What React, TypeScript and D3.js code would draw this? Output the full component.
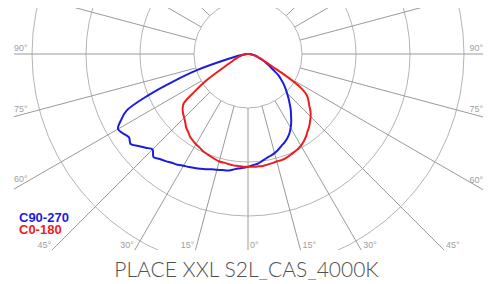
import React from "react";
import * as d3 from "d3";

// Polar angles (degrees from nadir) shared by all half-planes
const ANGLES = [
  0, 2.5, 5, 7.5, 10, 12.5, 15, 17.5, 20, 22.5, 25, 27.5, 30, 32.5, 35, 37.5, 40, 42.5,
  45, 47.5, 50, 52.5, 55, 57.5, 60, 62.5, 65, 67.5, 70, 72.5, 75, 77.5, 80, 82.5, 85, 87.5, 90,
];

// Intensity values (cd/klm) for each C-plane
const C0 = [
  209, 209, 209, 209, 208, 207, 206, 206, 205, 203, 201, 199, 196, 192, 187, 181, 176, 170,
  164, 157, 148, 141, 133, 115, 81, 52, 39, 30, 24, 19, 15, 12, 9, 6, 4, 2, 0,
];
const C180 = [
  209, 209, 208, 208, 207, 206, 206, 204, 202, 200, 198, 195, 193, 190, 187, 182, 178, 172,
  167, 163, 158, 150, 119, 93, 61, 44, 33, 28, 22, 19, 15, 12, 9, 6, 4, 2, 0,
];
const C90 = [
  207, 206, 204, 200, 196, 193, 190, 186, 181, 177, 172, 166, 158, 149, 139, 130, 120, 111,
  102, 94, 86, 77, 69, 57, 48, 41, 35, 29, 24, 20, 17, 14, 11, 8, 6, 3, 0,
];
const C270 = [
  209, 211, 213, 216, 219, 220, 222, 224, 227, 230, 233, 236, 239, 243, 246, 250, 254, 259,
  250, 257, 265, 274, 269, 274, 278, 265, 248, 200, 144, 98, 50, 26, 14, 8, 5, 2, 0,
];

const RINGS = [100, 200, 300, 400];
const SPOKES = [0, 15, 30, 45, 60, 75, 90, 105, 120, 135, 150, 165, 180, 195, 210, 225, 240, 255, 270, 285, 300, 315, 330, 345];
const LABEL_ANGLES = [90, 75, 60, 45, 30, 15, 0];
const LEGEND = [
  { name: "C90-270", color: "#1c1ce0" },
  { name: "C0-180", color: "#ee1c1c" },
];
const TITLE = "PLACE XXL S2L_CAS_4000K";

const W = 497;
const H = 284;
const CX = 248;
const CY = 54;
const CLIP = { x0: 14, x1: 483, y0: 8, y1: 250 };

export default function App() {
  const r = d3.scaleLinear().domain([0, 400]).range([0, 216]);
  const rad = (deg: number) => (deg * Math.PI) / 180;

  const radial = d3
    .lineRadial<{ a: number; v: number }>()
    .angle((d) => d.a)
    .radius((d) => r(d.v))
    .curve(d3.curveCatmullRom);

  const buildPath = (left: number[], right: number[]) => {
    const pts: { a: number; v: number }[] = [];
    for (let i = ANGLES.length - 1; i >= 0; i--) pts.push({ a: Math.PI + rad(ANGLES[i]), v: left[i] });
    for (let i = 1; i < ANGLES.length; i++) pts.push({ a: Math.PI - rad(ANGLES[i]), v: right[i] });
    return radial(pts) || "";
  };

  const labels: { x: number; y: number; anchor: string; text: string }[] = [];
  LABEL_ANGLES.forEach((deg) => {
    const t = rad(deg);
    [1, -1].forEach((s) => {
      const dx = s * Math.sin(t);
      const dy = Math.cos(t);
      const edgeX = s > 0 ? CLIP.x1 : CLIP.x0;
      const tx = Math.abs(dx) > 1e-6 ? (edgeX - CX) / dx : Infinity;
      const ty = dy > 1e-6 ? (CLIP.y1 - CY) / dy : Infinity;
      if (tx <= ty) {
        const yEdge = CY + tx * dy;
        const cot = Math.abs(dx) > 1e-6 ? dy / Math.abs(dx) : 0;
        labels.push({
          x: edgeX,
          y: yEdge - 3 - 7 * cot,
          anchor: s > 0 ? "end" : "start",
          text: `${deg}°`,
        });
      } else {
        const xb = CX + ty * dx;
        if (deg === 0 && s < 0) return;
        labels.push({
          x: s > 0 || deg === 0 ? xb + 2 : xb - 1,
          y: CLIP.y1 - 2,
          anchor: s > 0 || deg === 0 ? "start" : "end",
          text: `${deg}°`,
        });
      }
    });
  });

  return (
    <svg
      width={W}
      height={H}
      style={{ position: "absolute", left: 0, top: 0, background: "#fff" }}
      fontFamily="'Liberation Sans', Arial, sans-serif"
    >
      <defs>
        <clipPath id="plot-clip">
          <rect x={CLIP.x0} y={CLIP.y0} width={CLIP.x1 - CLIP.x0} height={CLIP.y1 - CLIP.y0} />
        </clipPath>
      </defs>
      <g clipPath="url(#plot-clip)">
        <g transform={`translate(${CX},${CY})`}>
          {RINGS.map((v) => (
            <circle key={v} r={r(v)} fill="none" stroke="#b4b4b4" strokeWidth={1} />
          ))}
          {SPOKES.map((deg) => {
            const t = rad(deg);
            const r0 = r(RINGS[0]);
            const r1 = 420;
            return (
              <line
                key={deg}
                x1={r0 * Math.sin(t)}
                y1={r0 * Math.cos(t)}
                x2={r1 * Math.sin(t)}
                y2={r1 * Math.cos(t)}
                stroke="#9a9a9a"
                strokeWidth={1}
              />
            );
          })}
          <path d={buildPath(C270, C90)} fill="none" stroke={LEGEND[0].color} strokeWidth={2} strokeLinejoin="round" />
          <path d={buildPath(C180, C0)} fill="none" stroke={LEGEND[1].color} strokeWidth={2} strokeLinejoin="round" />
        </g>
      </g>
      {labels.map((l, i) => (
        <text key={i} x={l.x} y={l.y} textAnchor={l.anchor} fontSize={9} fill="#a0a0a0">
          {l.text}
        </text>
      ))}
      {LEGEND.map((d, i) => (
        <text key={d.name} x={19} y={221.5 + i * 12} fontSize={13} fontWeight="bold" fill={d.color}>
          {d.name}
        </text>
      ))}
      <text
        x={246.5}
        y={277}
        textAnchor="middle"
        fontSize={21}
        fontWeight={300}
        fontFamily="Lato, 'Open Sans', sans-serif"
        fill="#505050"
      >
        {TITLE}
      </text>
    </svg>
  );
}
